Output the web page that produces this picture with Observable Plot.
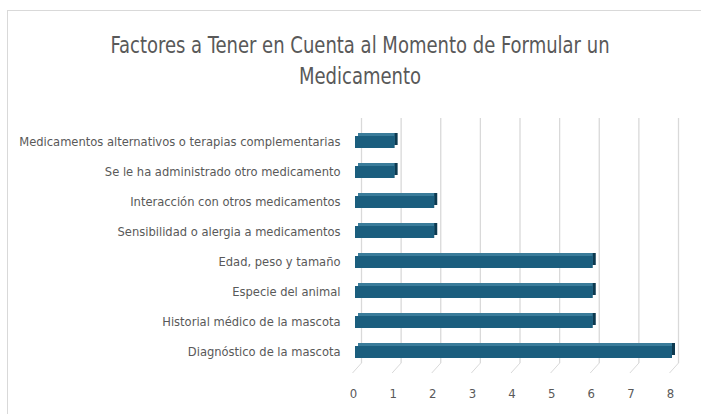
<!DOCTYPE html>
<html>
<head>
<meta charset="utf-8">
<script src="https://cdn.jsdelivr.net/npm/d3@7"></script>
<script src="https://cdn.jsdelivr.net/npm/@observablehq/plot@0.6"></script>
<style>
  html, body { margin: 0; padding: 0; background: #fff; width: 701px; height: 414px; overflow: hidden; }
  body { position: relative; font-family: "Liberation Sans Narrow", "DejaVu Sans Condensed", Roboto, sans-serif; }
  #frame { position: absolute; left: 7px; top: 10px; width: 700px; height: 410px; border-top: 1px solid #d9d9d9; border-left: 1px solid #d9d9d9; }
  #title { position: absolute; left: 0; top: 11px; width: 720px; text-align: center; font-size: 23px; line-height: 31px; color: #595959; padding-top: 19px; transform: scaleX(0.87); transform-origin: 360px 0; }
  #chart { position: absolute; left: 0; top: 110px; }
</style>
</head>
<body>
<div id="frame"></div>
<div id="title">Factores a Tener en Cuenta al Momento de Formular un<br>Medicamento</div>
<div id="chart"></div>
<script>
const categories = [
  "Medicamentos alternativos o terapias complementarias",
  "Se le ha administrado otro medicamento",
  "Interacción con otros medicamentos",
  "Sensibilidad o alergia a medicamentos",
  "Edad, peso y tamaño",
  "Especie del animal",
  "Historial médico de la mascota",
  "Diagnóstico de la mascota"
];
const values = [1, 1, 2, 2, 6, 6, 6, 8];
const xTicks = [0, 1, 2, 3, 4, 5, 6, 7, 8];

const data = categories.map((c, i) => ({category: c, value: values[i]}));
const font = '"Liberation Sans Narrow", "DejaVu Sans Condensed", Roboto, sans-serif';

const plot = Plot.plot({
  width: 701,
  height: 304,
  marginLeft: 355,
  marginRight: 29,
  marginTop: 13,
  marginBottom: 44,
  style: {fontFamily: font, fontSize: "13px", color: "#595959", background: "transparent"},
  x: {domain: [0, 8], ticks: xTicks, label: null},
  y: {domain: categories, label: null, paddingInner: 0.6, paddingOuter: 0.3},
  marks: [
    Plot.ruleX(xTicks, {x: d => d, stroke: "#d9d9d9", strokeWidth: 1.3, dx: 6, insetTop: -5, insetBottom: 7}),
    Plot.axisY({tickSize: 0, tickPadding: 15, fontSize: 12.8, fill: "#595959", label: null, dy: -1}),
    Plot.axisX({ticks: xTicks, tickSize: 10, tickPadding: 8, fontSize: 13, fill: "#595959", stroke: "#d9d9d9", dx: -2, label: null, tickFormat: d => String(d)}),
    // right side face (dark)
    Plot.barX(data, {x: "value", y: "category", fill: "#0d3a50", dx: 3, dy: -3}),
    // top face (lighter)
    Plot.barX(data, {x: "value", y: "category", fill: "#3a7c9a", dx: 3, dy: -3, insetRight: 3}),
    // front face
    Plot.barX(data, {x: "value", y: "category", fill: "#1b5e7e"})
  ]
});
document.getElementById("chart").appendChild(plot);
// 3D floor: slanted tick lines from the gridline base down to the labels
d3.select(plot).selectAll('g[aria-label="x-axis tick"] path').attr("d", "M8,-7L-1,3");
</script>
</body>
</html>
